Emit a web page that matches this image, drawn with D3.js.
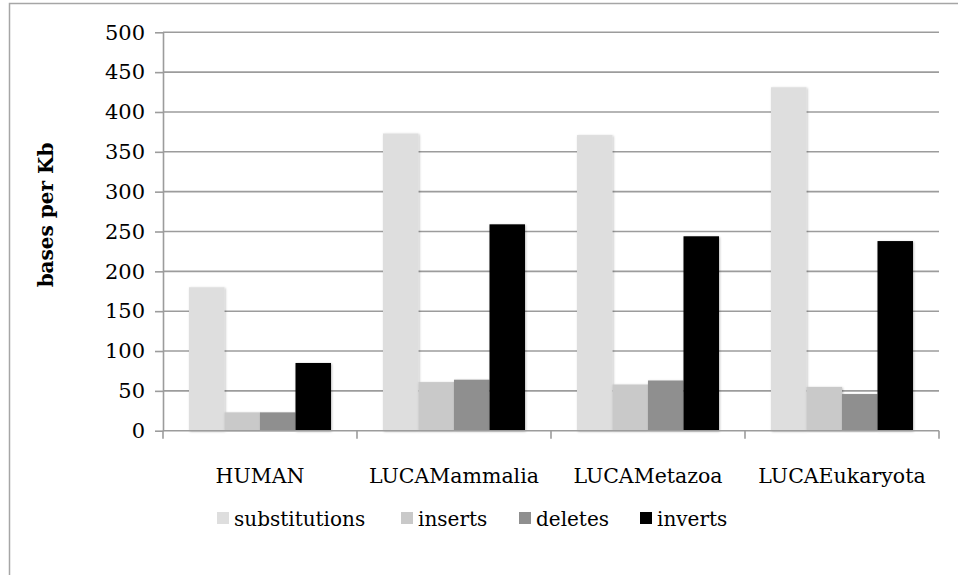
<!DOCTYPE html>
<html>
<head>
<meta charset="utf-8">
<script src="https://cdn.jsdelivr.net/npm/d3@7"></script>
<style>
  html, body { margin: 0; padding: 0; background: #fff; }
  svg { display: block; }
  svg text { font-family: "DejaVu Serif", serif; fill: #000; }
</style>
</head>
<body>
<svg id="chart" width="958" height="575"></svg>
<script>
// Rearrangement rates per ancestral genome, in bases per Kb
const categories = ["HUMAN", "LUCAMammalia", "LUCAMetazoa", "LUCAEukaryota"];
const seriesNames = ["substitutions", "inserts", "deletes", "inverts"];
const substitutions = [180, 373, 371, 431];
const inserts = [23, 61, 58, 55];
const deletes = [23, 64, 63, 46];
const inverts = [85, 259, 244, 238];
const yTicks = [0, 50, 100, 150, 200, 250, 300, 350, 400, 450, 500];
const seriesColors = ["#dedede", "#c9c9c9", "#8f8f8f", "#000000"];

const seriesValues = [substitutions, inserts, deletes, inverts];
const FONT = "DejaVu Serif, serif";

const svg = d3.select("#chart");

// chart frame
svg.append("rect")
  .attr("x", 9.5).attr("y", 3.5)
  .attr("width", 1000).attr("height", 1000)
  .attr("fill", "none").attr("stroke", "#a6a6a6").attr("stroke-width", 1.5);

const plot = { left: 163, right: 939, top: 32.3, bottom: 430.7 };

const y = d3.scaleLinear().domain([0, 500]).range([plot.bottom, plot.top]);
const x0 = d3.scaleBand().domain(categories).range([plot.left, plot.right]).paddingInner(0).paddingOuter(0);
const bw = x0.bandwidth();
const x1 = d3.scaleBand().domain(seriesNames).range([bw * 0.134, bw * 0.866]).padding(0);

// soft shadow under the bars
const defs = svg.append("defs");
const f = defs.append("filter").attr("id", "shadow")
  .attr("x", "-20%").attr("y", "-5%").attr("width", "140%").attr("height", "110%");
f.append("feDropShadow").attr("dx", 0.8).attr("dy", 0.8)
  .attr("stdDeviation", 1.3).attr("flood-color", "#000").attr("flood-opacity", 0.28);

// gridlines
svg.append("g").selectAll("line")
  .data(yTicks.filter(d => d > 0))
  .join("line")
  .attr("x1", plot.left).attr("x2", plot.right)
  .attr("y1", d => y(d)).attr("y2", d => y(d))
  .attr("stroke", "#9c9c9c").attr("stroke-width", 1.6);

// bars
const groups = svg.append("g").selectAll("g")
  .data(categories)
  .join("g")
  .attr("transform", d => `translate(${x0(d)},0)`);

groups.selectAll("rect")
  .data((c, i) => seriesNames.map((s, j) => ({ s, j, v: seriesValues[j][i] })))
  .join("rect")
  .attr("x", d => x1(d.s))
  .attr("width", x1.bandwidth())
  .attr("y", d => y(d.v))
  .attr("height", d => y(0) - y(d.v))
  .attr("fill", d => seriesColors[d.j])
  .attr("filter", "url(#shadow)");

// y axis
const yAxis = d3.axisLeft(y).tickValues(yTicks).tickSize(8).tickPadding(10).tickSizeOuter(0);
const gy = svg.append("g").attr("transform", `translate(${plot.left},0)`).call(yAxis);
gy.select(".domain").attr("stroke", "#9c9c9c").attr("stroke-width", 1.6);
gy.selectAll(".tick line").attr("stroke", "#9c9c9c").attr("stroke-width", 1.6);
gy.selectAll(".tick text").attr("font-size", 21).attr("font-family", FONT).attr("fill", "#000");

// x axis: category labels and boundary ticks
const gx = svg.append("g").attr("transform", `translate(0,${plot.bottom})`);
gx.append("line")
  .attr("x1", plot.left).attr("x2", plot.right)
  .attr("stroke", "#9c9c9c").attr("stroke-width", 1.6);
const boundaries = categories.map(c => x0(c)).concat([x0(categories[categories.length - 1]) + bw]);
gx.selectAll(".bt").data(boundaries).join("line")
  .attr("class", "bt")
  .attr("x1", d => d).attr("x2", d => d)
  .attr("y1", 0).attr("y2", 8)
  .attr("stroke", "#9c9c9c").attr("stroke-width", 1.6);
gx.selectAll("text").data(categories).join("text")
  .attr("x", d => x0(d) + bw / 2)
  .attr("y", 52)
  .attr("text-anchor", "middle")
  .attr("font-family", FONT)
  .attr("font-size", 20.5)
  .text(d => d);

// y axis title
svg.append("text")
  .attr("transform", `translate(53,215) rotate(-90)`)
  .attr("text-anchor", "middle")
  .attr("font-family", FONT)
  .attr("font-size", 20)
  .attr("font-weight", "bold")
  .text("bases per Kb");

// legend
const legendX = [217, 401, 519, 640];
const legend = svg.append("g").selectAll("g")
  .data(seriesNames)
  .join("g")
  .attr("transform", (d, i) => `translate(${legendX[i]},512)`);
legend.append("rect")
  .attr("width", 12).attr("height", 12)
  .attr("fill", (d, i) => seriesColors[i]);
legend.append("text")
  .attr("x", 17).attr("y", 14)
  .attr("font-family", FONT)
  .attr("font-size", 20)
  .text(d => d);
</script>
</body>
</html>
